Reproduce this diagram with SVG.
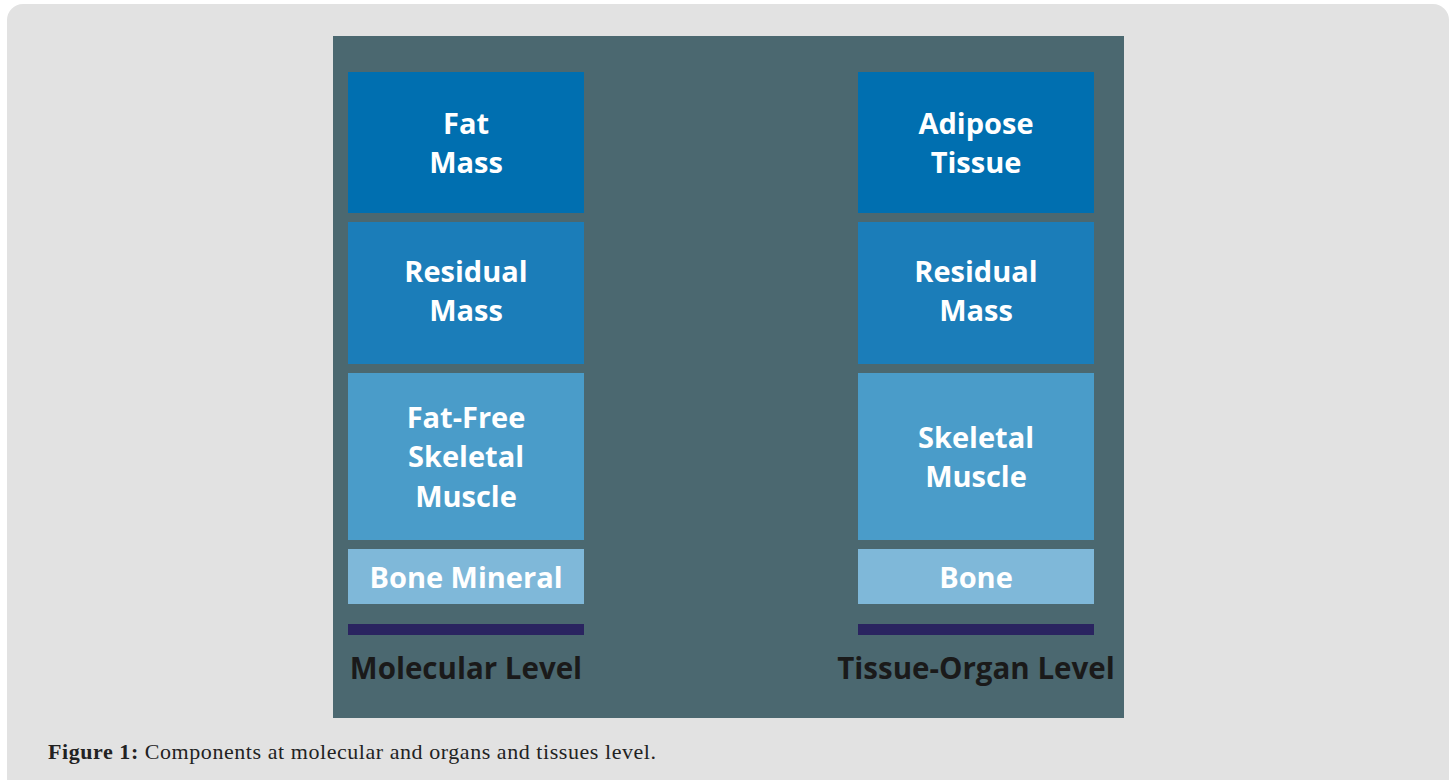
<svg xmlns="http://www.w3.org/2000/svg" width="1452" height="780" viewBox="0 0 1452 780">
<style>
.lbl{font-family:"Open Sans","DejaVu Sans",sans-serif;font-weight:700;font-size:29px;fill:#ffffff;text-anchor:middle}
.lvl{font-family:"Open Sans","DejaVu Sans",sans-serif;font-weight:700;font-size:29.5px;fill:#1a1a1a;text-anchor:middle}
.cap{font-family:"Liberation Serif",serif;font-size:22px;fill:#222}
.c1{fill:#006fb0}.c2{fill:#1b7db9}.c3{fill:#4a9cc9}.c4{fill:#7fb8d9}.bar{fill:#2a2460}
</style>
<rect x="0" y="0" width="1452" height="780" fill="#ffffff"/>
<rect x="7" y="4" width="1442" height="790" rx="16" fill="#e2e2e2"/>
<rect x="333" y="36" width="791" height="682" fill="#4b6870"/>
<g id="fat-mass"><rect class="c1" x="348" y="72" width="236" height="141"/><text class="lbl" x="466" y="134">Fat</text><text class="lbl" x="466" y="173">Mass</text></g>
<g id="residual-mass-left"><rect class="c2" x="348" y="222" width="236" height="142"/><text class="lbl" x="466" y="282">Residual</text><text class="lbl" x="466" y="321">Mass</text></g>
<g id="fat-free-muscle"><rect class="c3" x="348" y="373" width="236" height="167"/><text class="lbl" x="466" y="428">Fat-Free</text><text class="lbl" x="466" y="467">Skeletal</text><text class="lbl" x="466" y="507">Muscle</text></g>
<g id="bone-mineral"><rect class="c4" x="348" y="549" width="236" height="55"/><text class="lbl" x="466" y="588">Bone Mineral</text></g>
<g id="molecular-level"><rect class="bar" x="348" y="624" width="236" height="11"/><text class="lvl" x="466" y="679">Molecular Level</text></g>
<g id="adipose-tissue"><rect class="c1" x="858" y="72" width="236" height="141"/><text class="lbl" x="976" y="134">Adipose</text><text class="lbl" x="976" y="173">Tissue</text></g>
<g id="residual-mass-right"><rect class="c2" x="858" y="222" width="236" height="142"/><text class="lbl" x="976" y="282">Residual</text><text class="lbl" x="976" y="321">Mass</text></g>
<g id="skeletal-muscle"><rect class="c3" x="858" y="373" width="236" height="167"/><text class="lbl" x="976" y="448">Skeletal</text><text class="lbl" x="976" y="487">Muscle</text></g>
<g id="bone"><rect class="c4" x="858" y="549" width="236" height="55"/><text class="lbl" x="976" y="588">Bone</text></g>
<g id="tissue-organ-level"><rect class="bar" x="858" y="624" width="236" height="11"/><text class="lvl" x="976" y="679">Tissue-Organ Level</text></g>
<g id="connectors"></g>
<text class="cap" x="48" y="759" textLength="608"><tspan font-weight="700">Figure 1:</tspan> Components at molecular and organs and tissues level.</text>
</svg>
